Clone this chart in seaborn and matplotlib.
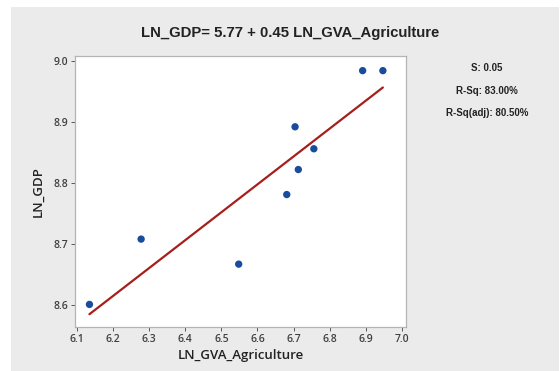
import numpy as np
import pandas as pd
import seaborn as sns
import matplotlib.pyplot as plt
from matplotlib.patches import Rectangle

# values
ln_gva_agri = [6.135, 6.278, 6.548, 6.681, 6.704, 6.713, 6.756, 6.891, 6.947]
ln_gdp = [8.601, 8.708, 8.667, 8.781, 8.892, 8.822, 8.856, 8.984, 8.984]
x_ticks = [6.1, 6.2, 6.3, 6.4, 6.5, 6.6, 6.7, 6.8, 6.9, 7.0]
y_ticks = [8.6, 8.7, 8.8, 8.9, 9.0]
stats = ["S: 0.05", "R-Sq: 83.00%", "R-Sq(adj): 80.50%"]
title = "LN_GDP= 5.77 + 0.45 LN_GVA_Agriculture"

df = pd.DataFrame({"LN_GVA_Agriculture": ln_gva_agri, "LN_GDP": ln_gdp})

sns.set_style("white")
plt.rcParams['font.family'] = ['Open Sans', 'DejaVu Sans']

fig = plt.figure(figsize=(5.6, 3.71), dpi=100)
fig.patch.set_facecolor("white")
# grey panel behind everything
fig.add_artist(Rectangle((11 / 560, 0), 548 / 560, 1 - 7 / 371,
                         transform=fig.transFigure, facecolor="#ebebeb",
                         edgecolor="none", zorder=-5))

ax = fig.add_axes([75 / 560, 1 - 327 / 371, 331 / 560, 271 / 371])
ax.set_facecolor("white")
sns.regplot(data=df, x="LN_GVA_Agriculture", y="LN_GDP", ax=ax, ci=None,
            scatter_kws=dict(s=28, color="#1a4c9e", edgecolor="none", alpha=1, zorder=3),
            line_kws=dict(color="#a61f1c", lw=1.6))

ax.set_xlim(6.095, 7.011)
ax.set_ylim(8.564, 9.008)
ax.set_xticks(x_ticks)
ax.set_yticks(y_ticks)
ax.set_xticklabels([f"{t:.1f}" for t in x_ticks])
ax.set_yticklabels([f"{t:.1f}" for t in y_ticks])
ax.tick_params(axis="both", labelsize=7.5, colors="#404040", length=3, width=0.6,
               direction="out", bottom=True, left=True, pad=2)
for lab in ax.get_xticklabels() + ax.get_yticklabels():
    lab.set_fontweight("semibold")
for s in ax.spines.values():
    s.set_color("#b4b4b4")
    s.set_linewidth(0.9)

ax.set_xlabel("LN_GVA_Agriculture", fontsize=9.5, color="#222222",
              fontweight="semibold", labelpad=3)
ax.set_ylabel("LN_GDP", fontsize=9.5, color="#222222",
              fontweight="semibold", labelpad=6)

fig.text(0.518, 0.911, title, ha="center", va="center", fontsize=10.7,
         fontweight="bold", family=["Liberation Sans", "DejaVu Sans"], color="#222222")
for i, s in enumerate(stats):
    fig.text(487 / 560, 1 - (68 + 22.5 * i) / 371, s, ha="center", va="center",
             fontsize=7, fontweight="bold",
             family=["Liberation Sans", "DejaVu Sans"], color="#222222")

fig.savefig("out.png", dpi=100)
